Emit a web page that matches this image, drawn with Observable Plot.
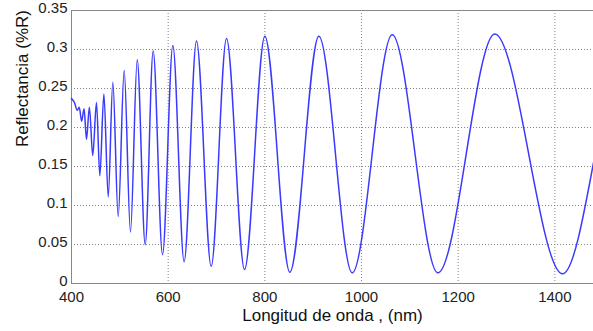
<!DOCTYPE html>
<html>
<head>
<meta charset="utf-8">
<script src="https://cdn.jsdelivr.net/npm/d3@7"></script>
<script src="https://cdn.jsdelivr.net/npm/@observablehq/plot@0.6"></script>
<style>
  html, body { margin: 0; padding: 0; background: #fff; }
  #chart svg { display: block; }
</style>
</head>
<body>
<div id="chart"></div>
<script>
// Wavelength (nm) of the curve's turning points
const wavelength = [400, 406, 412, 416, 421, 426, 431, 437, 444, 451.7, 458.6, 467, 476, 485.5, 496.6, 509, 522, 536, 552.5, 569, 588.3, 609.7, 633, 658.6, 689, 720.7, 758, 800, 851.7, 911.7, 980.8, 1063.5, 1158, 1275.8, 1416, 1480];
// Reflectance at those points
const reflectance = [0.237, 0.232, 0.222, 0.226, 0.208, 0.224, 0.185, 0.226, 0.164, 0.232, 0.138, 0.243, 0.111, 0.258, 0.086, 0.273, 0.066, 0.287, 0.050, 0.298, 0.037, 0.305, 0.028, 0.311, 0.022, 0.314, 0.018, 0.317, 0.0145, 0.317, 0.0137, 0.319, 0.0137, 0.320, 0.0124, 0.155];

const xTicks = [400, 600, 800, 1000, 1200, 1400];
const xTickLabels = ["400", "600", "800", "1000", "1200", "1400"];
const yTicks = [0, 0.05, 0.1, 0.15, 0.2, 0.25, 0.3, 0.35];
const yTickLabels = ["0", "0.05", "0.1", "0.15", "0.2", "0.25", "0.3", "0.35"];
const xTitle = "Longitud de onda , (nm)";
const yTitle = "Reflectancia (%R)";

const data = wavelength.map((w, i) => ({w, r: reflectance[i]}));

const chart = Plot.plot({
  width: 593,
  height: 331,
  marginLeft: 71,
  marginRight: 0,
  marginTop: 10,
  marginBottom: 48,
  style: {fontFamily: "'Liberation Sans', Arial, sans-serif", fontSize: "15px", color: "#222", background: "#fff"},
  x: {domain: [400, 1480]},
  y: {domain: [0, 0.35]},
  marks: [
    Plot.gridX(xTicks, {stroke: "#777", strokeOpacity: 0.9, strokeDasharray: "1,2"}),
    Plot.gridY(yTicks, {stroke: "#777", strokeOpacity: 0.9, strokeDasharray: "1,2"}),
    Plot.ruleY([0.35], {stroke: "#888"}),
    Plot.ruleY([0], {stroke: "#888"}),
    Plot.ruleX([400], {stroke: "#888"}),
    Plot.axisX(xTicks, {tickSize: 0, tickPadding: 8, tickFormat: (d) => xTickLabels[xTicks.indexOf(d)], label: null, fontSize: 15}),
    Plot.axisY(yTicks, {tickSize: 0, tickPadding: 4, dy: -2, tickFormat: (d) => yTickLabels[yTicks.indexOf(d)], label: null, fontSize: 15}),
    Plot.text([xTitle], {frameAnchor: "bottom", dy: 37, fontSize: 17, fill: "#111"}),
    Plot.text([yTitle], {frameAnchor: "left", dx: -49, rotate: -90, fontSize: 17, fill: "#111"}),
    Plot.line(data, {x: "w", y: "r", curve: "monotone-x", stroke: "#3a3aff", strokeWidth: 1.5})
  ]
});
document.getElementById("chart").append(chart);
</script>
</body>
</html>
